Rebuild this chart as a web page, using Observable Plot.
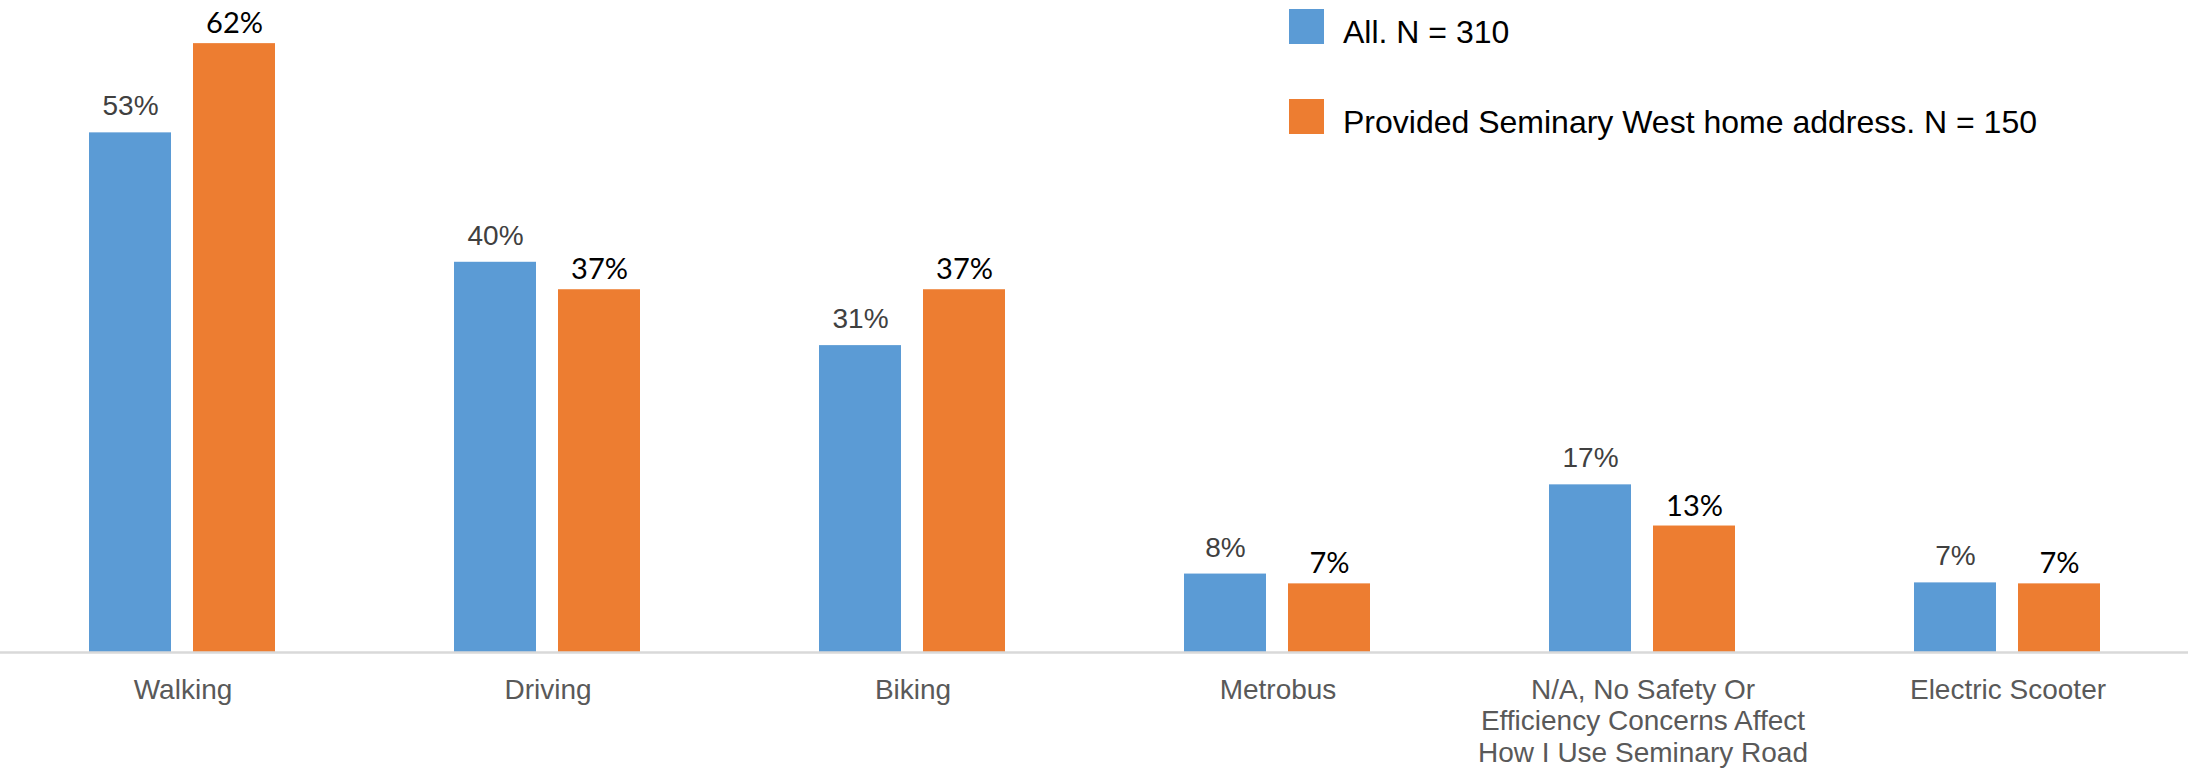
<!DOCTYPE html>
<html>
<head>
<meta charset="utf-8">
<script src="https://cdn.jsdelivr.net/npm/d3@7"></script>
<script src="https://cdn.jsdelivr.net/npm/@observablehq/plot@0.6"></script>
<style>
  html, body { margin: 0; padding: 0; background: #fff; overflow: hidden; }
  #wrap { position: relative; width: 2188px; height: 770px; overflow: hidden; }
  .lg-row { position: absolute; left: 1289px; display: flex; align-items: flex-start; }
  .lg-sw { width: 35px; height: 35px; }
  .lg-tx { position: absolute; left: 54px; white-space: nowrap; font-family: "Liberation Sans", Arial, sans-serif; font-size: 32px; line-height: 32px; color: #000; }
</style>
</head>
<body>
<div id="wrap"></div>
<script>
const categories = ["Walking", "Driving", "Biking", "Metrobus", "N/A, No Safety Or Efficiency Concerns Affect How I Use Seminary Road", "Electric Scooter"];
const tickLabels = ["Walking", "Driving", "Biking", "Metrobus", "N/A, No Safety Or\nEfficiency Concerns Affect\nHow I Use Seminary Road", "Electric Scooter"];
const series = ["All. N = 310", "Provided Seminary West home address. N = 150"];
const valuesAll = [53.0, 39.8, 31.3, 8.0, 17.1, 7.1];
const valuesProvided = [62.1, 37.0, 37.0, 7.0, 12.9, 7.0];
const colors = ["#5B9BD5", "#ED7D31"];

const data = [];
categories.forEach((c, i) => {
  data.push({category: c, series: series[0], value: valuesAll[i]});
  data.push({category: c, series: series[1], value: valuesProvided[i]});
});

const chart = Plot.plot({
  width: 2188,
  height: 770,
  marginLeft: 0,
  marginRight: -2,
  marginTop: 0,
  marginBottom: 118,
  style: {fontFamily: "'Liberation Sans', Arial, sans-serif", background: "#fff", overflow: "hidden"},
  fx: {domain: categories, paddingInner: 0, paddingOuter: 0, label: null},
  x: {domain: series, paddingInner: 0.2115, paddingOuter: 0.859, axis: null},
  y: {domain: [0, 66.5], axis: null},
  color: {domain: series, range: colors},
  marks: [
    Plot.barY(data, {fx: "category", x: "series", y: "value", fill: "series"}),
    Plot.ruleY([0], {stroke: "#d9d9d9", strokeWidth: 2.5}),
    Plot.text(data.filter(d => d.series === series[0]), {
      fx: "category", x: "series", y: "value",
      text: d => Math.round(d.value) + "%",
      lineAnchor: "bottom", dy: -17.5,
      fontSize: 28, fill: "#404040",
      fontFamily: "'Liberation Sans', Arial, sans-serif"
    }),
    Plot.text(data.filter(d => d.series === series[1]), {
      fx: "category", x: "series", y: "value",
      text: d => Math.round(d.value) + "%",
      lineAnchor: "bottom", dy: -10.5,
      fontSize: 29, fill: "#000",
      fontFamily: "Lato, 'Open Sans', sans-serif"
    }),
    Plot.axisFx({
      anchor: "bottom", tickSize: 0, tickPadding: 24,
      tickFormat: d => tickLabels[categories.indexOf(d)],
      fontSize: 28, lineHeight: 1.125, color: "#595959", label: null
    })
  ]
});

const wrap = document.getElementById("wrap");
wrap.appendChild(chart);

// Legend (HTML overlay, top right)
const legendTops = [9, 99];
series.forEach((s, i) => {
  const row = document.createElement("div");
  row.className = "lg-row";
  row.style.top = legendTops[i] + "px";
  const sw = document.createElement("div");
  sw.className = "lg-sw";
  sw.style.background = colors[i];
  const tx = document.createElement("div");
  tx.className = "lg-tx";
  tx.style.top = "7px";
  tx.textContent = s;
  row.appendChild(sw);
  row.appendChild(tx);
  wrap.appendChild(row);
});
</script>
</body>
</html>
